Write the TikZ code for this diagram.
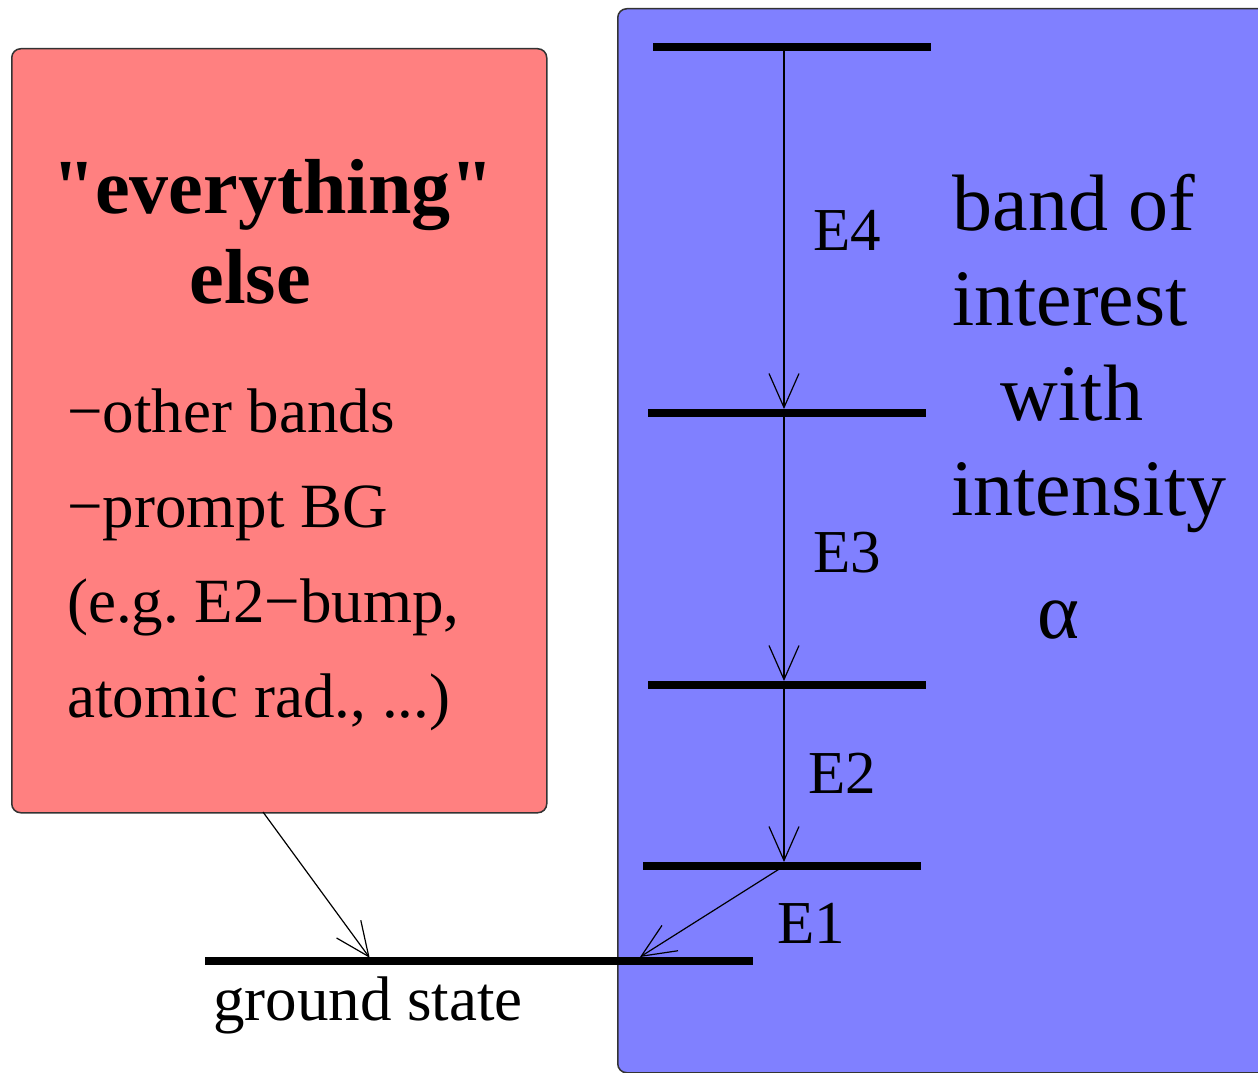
\documentclass[tikz,border=0pt]{standalone}
\usepackage{fontspec}
\setmainfont{Liberation Serif}
\usetikzlibrary{arrows.meta}
\frenchspacing

\tikzset{
    panel/.style={draw=black!80, line width=1.5pt, rounded corners=9pt, inner sep=0pt, anchor=north west},
    level/.style={line width=8pt},
    trans/.style={line width=1.2pt, -{Straight Barb[length=34pt, width=30pt, line width=1.2pt]}},
    titletext/.style={font=\fontsize{78}{90}\selectfont\bfseries, inner sep=0pt, anchor=base},
    listtext/.style={font=\fontsize{63}{72}\selectfont, inner sep=0pt, anchor=base west},
    elabel/.style={font=\fontsize{61}{70}\selectfont, inner sep=0pt, anchor=base west},
    bandtext/.style={font=\fontsize{80}{95}\selectfont, inner sep=0pt, anchor=base},
}

\begin{document}
\begin{tikzpicture}[x=1pt, y=-1pt]
    \useasboundingbox (0,0) rectangle (1258,1073);

    % the two boxes
    \node[panel, fill=red!50, minimum width=535pt, minimum height=764pt] (other) at (11,48) {};
    \node[panel, fill=blue!50, minimum width=670pt, minimum height=1064pt] (band) at (617,8) {};

    % left box text
    \node[titletext] (ttl) at (273,213) {\textquotedbl everything\textquotedbl};
    \node[titletext] (ttl2) at (250,303) {else};
    \foreach \txt/\yy in {{−other bands}/432, {−prompt BG}/527, {(e.g. E2−bump,}/622, {atomic rad., ...)}/717} {
        \node[listtext] (item\yy) at (67,\yy) {\txt};
    }

    % levels
    \coordinate (l4) at (784,47);
    \coordinate (l3) at (784,413);
    \coordinate (l2) at (784,685);
    \coordinate (l1) at (784,866);
    \coordinate (gsa) at (372,961);
    \coordinate (gsb) at (640,957);
    \coordinate (otherfoot) at (263,812);

    \draw[level] (653,47) -- (931,47);
    \draw[level] (648,413) -- (926,413);
    \draw[level] (648,685) -- (926,685);
    \draw[level] (643,866) -- (921,866);
    \draw[level] (205,961) -- (753,961);

    % transitions
    \draw[trans, shorten >=4pt] (l4) -- (l3);
    \draw[trans, shorten >=4pt] (l3) -- (l2);
    \draw[trans, shorten >=4pt] (l2) -- (l1);
    \draw[trans] (l1) -- (gsb);
    \draw[trans, shorten >=4pt] (otherfoot) -- (gsa);

    \node[elabel] (e4) at (813,250) {E4};
    \node[elabel] (e3) at (813,572) {E3};
    \node[elabel] (e2) at (808,793) {E2};
    \node[elabel] (e1) at (777,943) {E1};

    \node[listtext] (gstext) at (213,1020) {ground state};

    % right text
    \foreach \txt/\xx/\yy in {band of/1074/230, interest/1070/325, with/1072/420, intensity/1089/515} {
        \node[bandtext] (bt\yy) at (\xx,\yy) {\txt};
    }
    \node[bandtext] (alpha) at (1058,638) {α};
\end{tikzpicture}
\end{document}
